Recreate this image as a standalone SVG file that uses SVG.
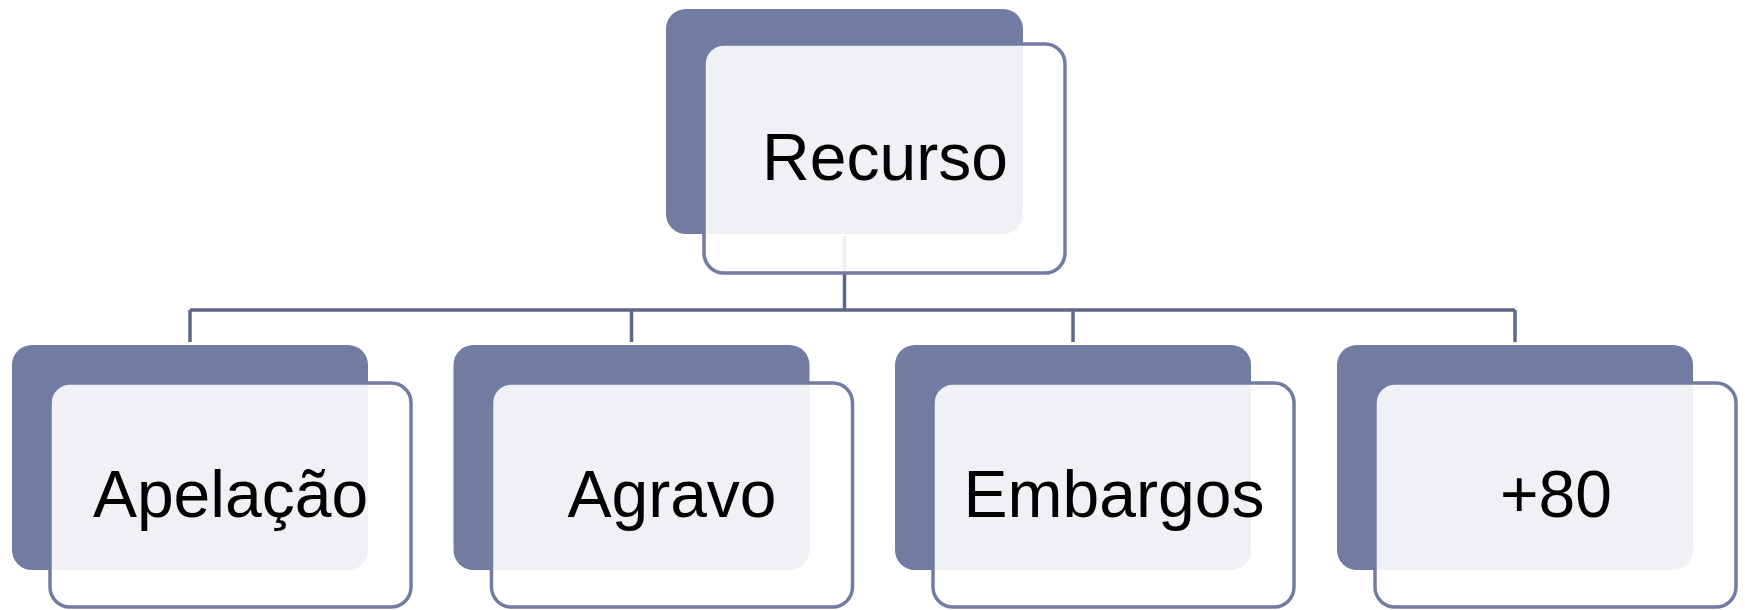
<svg xmlns="http://www.w3.org/2000/svg" width="1745" height="610" viewBox="0 0 1745 610">
  <style>
    .back { fill: #727ca3; }
    .front { fill: #ffffff; fill-opacity: 0.89; stroke: #727ca3; stroke-width: 3.5; }
    .label { font-family: "Liberation Sans", Arial, sans-serif; font-size: 66px; fill: #000000; text-anchor: middle; }
    .link { fill: none; stroke: #5e6788; stroke-width: 3.5; }
  </style>
  <rect width="1745" height="610" fill="#ffffff"/>

  <!-- tree connectors (drawn first so the card faces sit above them) -->
  <g id="connectors">
    <path class="link" d="M844.5 236 V310"/>
    <path class="link" d="M190 310 H1515"/>
    <path class="link" d="M190 310 V342"/>
    <path class="link" d="M631.5 310 V342"/>
    <path class="link" d="M1073 310 V342"/>
    <path class="link" d="M1515 310 V342"/>
  </g>

  <g id="node-recurso">
    <rect class="back" x="666" y="9" width="357" height="225" rx="20"/>
    <rect class="front" x="704" y="44" width="361" height="229" rx="20"/>
    <text class="label" x="885" y="180">Recurso</text>
  </g>

  <g id="node-apelacao">
    <rect class="back" x="12" y="345" width="356" height="225" rx="20"/>
    <rect class="front" x="50" y="383" width="361" height="224" rx="20"/>
    <text class="label" x="230.5" y="517">Apelação</text>
  </g>

  <g id="node-agravo">
    <rect class="back" x="453.5" y="345" width="356" height="225" rx="20"/>
    <rect class="front" x="491.5" y="383" width="361" height="224" rx="20"/>
    <text class="label" x="672" y="517">Agravo</text>
  </g>

  <g id="node-embargos">
    <rect class="back" x="895" y="345" width="356" height="225" rx="20"/>
    <rect class="front" x="933" y="383" width="361" height="224" rx="20"/>
    <text class="label" x="1114" y="517">Embargos</text>
  </g>

  <g id="node-mais80">
    <rect class="back" x="1337" y="345" width="356" height="225" rx="20"/>
    <rect class="front" x="1375" y="383" width="361" height="224" rx="20"/>
    <text class="label" x="1556" y="517">+80</text>
  </g>
</svg>
